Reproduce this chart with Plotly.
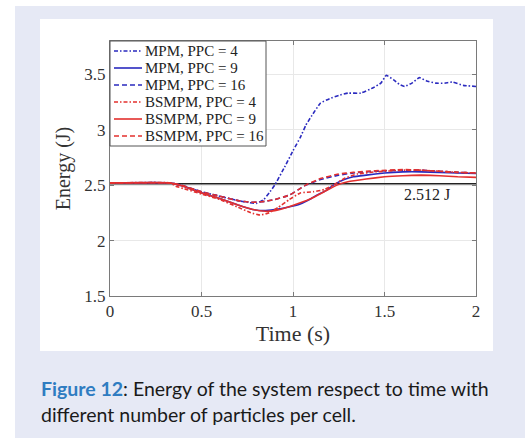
import plotly.graph_objects as go

# ---- data ----
t_mpm4 = [0, 0.33, 0.4, 0.5, 0.6, 0.7, 0.75, 0.8, 0.84, 0.87, 0.9, 0.95, 1.0, 1.04, 1.07, 1.1,
          1.15, 1.2, 1.25, 1.3, 1.37, 1.44, 1.48, 1.51, 1.55, 1.58, 1.61, 1.65, 1.69, 1.73,
          1.78, 1.83, 1.87, 1.93, 2.0]
e_mpm4 = [2.52, 2.52, 2.49, 2.44, 2.40, 2.36, 2.345, 2.335, 2.37, 2.43, 2.50, 2.65, 2.81, 2.93,
          3.04, 3.12, 3.24, 3.28, 3.31, 3.33, 3.33, 3.38, 3.42, 3.49, 3.45, 3.41, 3.39, 3.42,
          3.47, 3.44, 3.42, 3.42, 3.43, 3.40, 3.39]

t_mpm9 = [0, 0.33, 0.4, 0.5, 0.6, 0.7, 0.78, 0.84, 0.9, 0.97, 1.04, 1.1, 1.13, 1.18, 1.22,
          1.28, 1.33, 1.4, 1.5, 1.6, 1.7, 1.8, 1.9, 2.0]
e_mpm9 = [2.52, 2.52, 2.49, 2.43, 2.38, 2.32, 2.28, 2.27, 2.28, 2.30, 2.33, 2.38, 2.41, 2.45,
          2.50, 2.55, 2.575, 2.59, 2.61, 2.62, 2.62, 2.615, 2.61, 2.605]

t_mpm16 = [0, 0.33, 0.4, 0.5, 0.6, 0.7, 0.77, 0.83, 0.9, 0.98, 1.03, 1.07, 1.15, 1.25, 1.33,
           1.45, 1.6, 1.7, 1.8, 1.9, 2.0]
e_mpm16 = [2.52, 2.52, 2.495, 2.44, 2.40, 2.36, 2.345, 2.35, 2.37, 2.41, 2.46, 2.50, 2.55,
           2.59, 2.61, 2.625, 2.635, 2.635, 2.625, 2.615, 2.61]

t_bs4 = [0, 0.33, 0.36, 0.4, 0.5, 0.6, 0.7, 0.77, 0.82, 0.87, 0.92, 0.98, 1.04, 1.11, 1.17,
         1.22, 1.28, 1.35, 1.45, 1.6, 1.7, 1.8, 1.9, 2.0]
e_bs4 = [2.52, 2.52, 2.49, 2.47, 2.42, 2.37, 2.30, 2.25, 2.23, 2.25, 2.30, 2.37, 2.43, 2.44,
         2.46, 2.50, 2.56, 2.60, 2.62, 2.635, 2.635, 2.625, 2.615, 2.61]

t_bs9 = [0, 0.33, 0.4, 0.5, 0.6, 0.7, 0.78, 0.85, 0.9, 0.97, 1.04, 1.1, 1.17, 1.24, 1.3,
         1.4, 1.5, 1.6, 1.7, 1.8, 1.9, 2.0]
e_bs9 = [2.52, 2.52, 2.49, 2.43, 2.38, 2.32, 2.28, 2.265, 2.27, 2.30, 2.34, 2.38, 2.44, 2.50,
         2.53, 2.555, 2.575, 2.585, 2.59, 2.585, 2.575, 2.57]

t_bs16 = [0, 0.33, 0.4, 0.5, 0.6, 0.7, 0.77, 0.83, 0.9, 0.98, 1.03, 1.07, 1.15, 1.25, 1.33,
          1.45, 1.6, 1.7, 1.8, 1.9, 2.0]
e_bs16 = [2.52, 2.52, 2.495, 2.44, 2.40, 2.36, 2.345, 2.35, 2.37, 2.41, 2.46, 2.50, 2.56,
          2.60, 2.615, 2.63, 2.64, 2.635, 2.625, 2.615, 2.61]

ref_value = 2.512
ref_label = "2.512 J"
x_ticks = [0, 0.5, 1, 1.5, 2]
x_tick_text = ["0", "0.5", "1", "1.5", "2"]
y_ticks = [1.5, 2, 2.5, 3, 3.5]
y_tick_text = ["1.5", "2", "2.5", "3", "3.5"]
series_names = ["MPM, PPC = 4", "MPM, PPC = 9", "MPM, PPC = 16",
                "BSMPM, PPC = 4", "BSMPM, PPC = 9", "BSMPM, PPC = 16"]

BLUE = "#2a2abf"
RED = "#e3302e"
SERIF = "Liberation Serif, Times New Roman, serif"
SANS = "Lato, Open Sans, sans-serif"
DASHDOT = "4px,2px,1.5px,2px"
DASH = "5px,3px"

series = [
    (series_names[0], t_mpm4, e_mpm4, BLUE, DASHDOT),
    (series_names[1], t_mpm9, e_mpm9, BLUE, "solid"),
    (series_names[2], t_mpm16, e_mpm16, BLUE, DASH),
    (series_names[3], t_bs4, e_bs4, RED, DASHDOT),
    (series_names[4], t_bs9, e_bs9, RED, "solid"),
    (series_names[5], t_bs16, e_bs16, RED, DASH),
]

W, H = 525, 438
L, R, T, B = 110, 49, 41, 142
pw, ph = W - L - R, H - T - B


def px(x):
    return (x - L) / pw


def py(y):
    return (H - B - y) / ph


fig = go.Figure()

# reference line
fig.add_trace(go.Scatter(x=[0, 2], y=[ref_value, ref_value], mode="lines",
                         line=dict(color="#222222", width=1.5), showlegend=False,
                         hoverinfo="skip"))

for name, t, e, c, d in series:
    fig.add_trace(go.Scatter(x=t, y=e, mode="lines", name=name, showlegend=False,
                             line=dict(color=c, dash=d, width=1.6, shape="spline",
                                       smoothing=0.3)))

fig.add_annotation(x=1.73, y=2.42, text=ref_label, showarrow=False,
                   font=dict(family=SERIF, size=16, color="#222222"))

# light blue figure box and white chart panel
fig.add_shape(type="rect", xref="paper", yref="paper", layer="below",
              x0=px(15), x1=px(530), y0=py(445), y1=py(6),
              fillcolor="#e6e9f5", line=dict(width=0))
fig.add_shape(type="rect", xref="paper", yref="paper", layer="below",
              x0=px(40), x1=px(493), y0=py(351), y1=py(19),
              fillcolor="white", line=dict(width=0))

# legend box (drawn manually to match the compact MATLAB legend)
fig.add_shape(type="rect", xref="paper", yref="paper", layer="above",
              x0=px(110), x1=px(266), y0=py(146), y1=py(41),
              fillcolor="white", line=dict(color="#555555", width=1))
leg_y = [51, 68, 85, 102, 119, 136]
for (name, t, e, c, d), yy in zip(series, leg_y):
    fig.add_shape(type="line", xref="paper", yref="paper", layer="above",
                  x0=px(114), x1=px(142), y0=py(yy), y1=py(yy),
                  line=dict(color=c, dash=d, width=1.6))
    fig.add_annotation(xref="paper", yref="paper", x=px(143), y=py(yy), xanchor="left",
                       yanchor="middle", showarrow=False, text=name,
                       font=dict(family=SERIF, size=15, color="#222222"))

# caption
fig.add_annotation(xref="paper", yref="paper", x=px(39), y=py(388), xanchor="left",
                   yanchor="middle", showarrow=False, align="left",
                   text="<b><span style='color:#2f7cc1'>Figure 12</span></b>: Energy of the system respect to time with",
                   font=dict(family=SANS, size=19.5, color="#1a1a1a"))
fig.add_annotation(xref="paper", yref="paper", x=px(39), y=py(414), xanchor="left",
                   yanchor="middle", showarrow=False, align="left",
                   text="different number of particles per cell.",
                   font=dict(family=SANS, size=19.5, color="#1a1a1a"))

axis_common = dict(showgrid=True, gridcolor="#e8e8e8", gridwidth=1, zeroline=False,
                   showline=True, linecolor="#7a7a7a", linewidth=1, mirror="ticks",
                   ticks="inside", ticklen=4, tickcolor="#7a7a7a",
                   tickfont=dict(family=SERIF, size=17, color="#333333"))

fig.update_xaxes(range=[0, 2], tickvals=x_ticks, ticktext=x_tick_text,
                 title=dict(text="Time (s)", font=dict(family=SERIF, size=22, color="#333333"),
                            standoff=0),
                 **axis_common)
fig.update_yaxes(range=[1.5, 3.8], tickvals=y_ticks, ticktext=y_tick_text,
                 title=dict(text="Energy (J)", font=dict(family=SERIF, size=20, color="#333333"),
                            standoff=8),
                 **axis_common)

fig.update_layout(
    width=W, height=H,
    margin=dict(l=L, r=R, t=T, b=B),
    paper_bgcolor="white", plot_bgcolor="white",
    showlegend=False,
)

fig.write_html("out.html")
